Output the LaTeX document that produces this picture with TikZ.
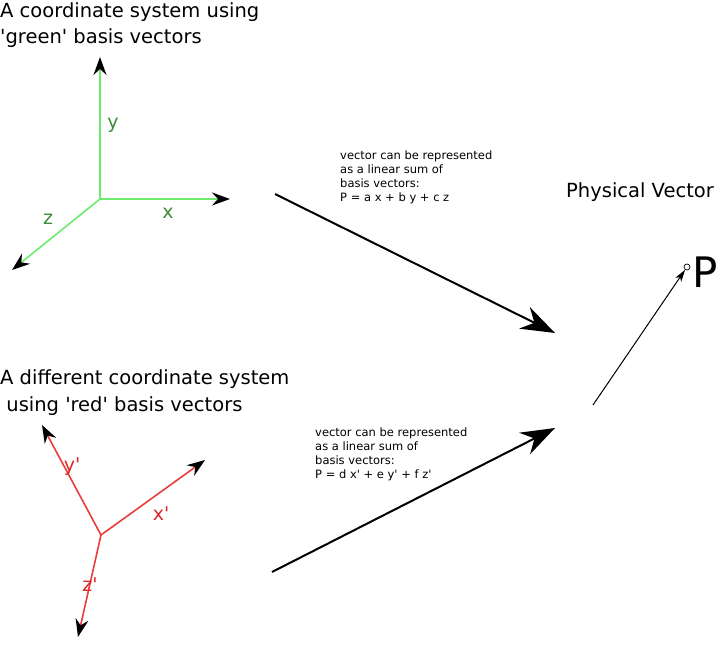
\documentclass[tikz,border=0pt]{standalone}
\usepackage{fontspec}
\setmainfont{DejaVu Sans}
\usetikzlibrary{arrows.meta}
\definecolor{gr}{RGB}{110,235,110}
\definecolor{gt}{RGB}{60,140,60}
\definecolor{rd}{RGB}{235,60,60}
\definecolor{rt}{RGB}{220,40,40}
\newcommand{\sq}{\textquotesingle}
\begin{document}
\begin{tikzpicture}[x=1pt,y=-1pt,
 ax/.style={line width=1.6pt,-{Stealth[length=18pt,width=13pt,inset=6pt,black]}},
 big/.style={line width=2pt,-{Stealth[length=34pt,width=24pt,inset=11pt]}},
 ttl/.style={anchor=base west,font=\fontsize{19.5}{21}\selectfont,inner sep=0},
 lab/.style={font=\fontsize{19}{21}\selectfont,inner sep=0},
 small/.style={anchor=north west,align=left,font=\fontsize{11.5}{14}\selectfont,inner sep=0}]
\useasboundingbox (0,0) rectangle (720,647);
\node[ttl] (t1) at (0,18) {A coordinate system using};
\node[ttl] (t2) at (0,44) {\sq green\sq{} basis vectors};
\coordinate (g0) at (100,199);
\coordinate (gy) at (100,57);
\coordinate (gx) at (230,199);
\coordinate (gz) at (12,270);
\draw[ax,draw=gr] (g0) -- (gy);
\draw[ax,draw=gr] (g0) -- (gx);
\draw[ax,draw=gr] (g0) -- (gz);
\node[lab,text=gt] (ly) at (113,125) {y};
\node[lab,text=gt] (lx) at (168,213) {x};
\node[lab,text=gt] (lz) at (48,219) {z};
\coordinate (a1s) at (275,194);
\coordinate (a1e) at (555,333);
\draw[big] (a1s) -- (a1e);
\node[small] (s1) at (340,151) {vector can be represented\\as a linear sum of\\basis vectors:\\P = a x + b y + c z};
\node[ttl] (pv) at (566,197) {Physical Vector};
\node[font=\fontsize{42}{42}\selectfont,inner sep=0,anchor=base west] (P) at (692,287) {P};
\node[circle,draw,line width=0.7pt,inner sep=0,minimum size=6pt] (pc) at (687,267) {};
\coordinate (ps) at (593,405);
\draw[line width=1pt,-{Stealth[length=12pt,width=7pt,inset=3pt]}] (ps) -- (pc);
\node[ttl] (t3) at (0,384) {A different coordinate system};
\node[ttl] (t4) at (0,411) {\ using \sq red\sq{} basis vectors};
\coordinate (r0) at (101,535);
\coordinate (ry) at (42,425);
\coordinate (rx) at (205,460);
\coordinate (rz) at (78,637);
\draw[ax,draw=rd] (r0) -- (ry);
\draw[ax,draw=rd] (r0) -- (rx);
\draw[ax,draw=rd] (r0) -- (rz);
\node[lab,text=rt] (lry) at (72,467) {y\sq};
\node[lab,text=rt] (lrx) at (161,514) {x\sq};
\node[lab,text=rt] (lrz) at (90,585) {z\sq};
\coordinate (a2s) at (272,572);
\coordinate (a2e) at (555,428);
\draw[big] (a2s) -- (a2e);
\node[small] (s2) at (315,428) {vector can be represented\\as a linear sum of\\basis vectors:\\P = d x\sq{} + e y\sq{} + f z\sq};
\end{tikzpicture}
\end{document}
